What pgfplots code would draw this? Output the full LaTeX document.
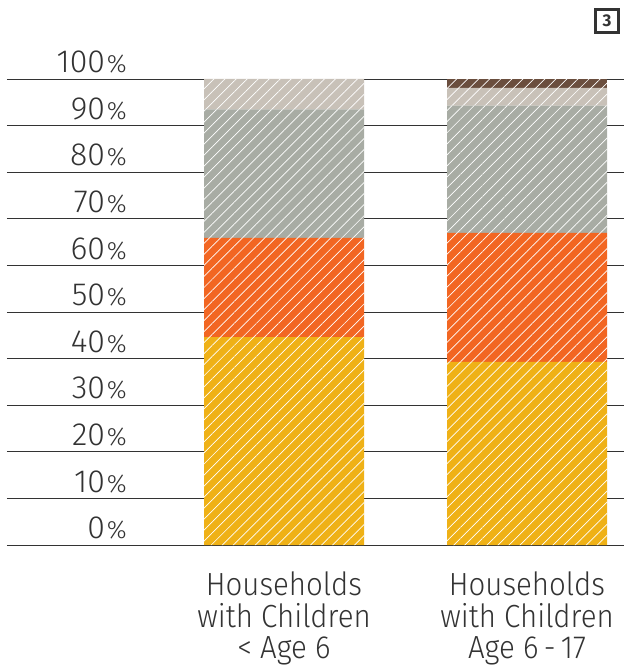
\documentclass[border=0pt]{standalone}
\usepackage{fontspec}
\setmainfont{Fira Sans Light}[FakeStretch=0.92]
\newfontfamily\tickfont{Fira Sans Light}
\newfontfamily\boxfont{Fira Sans}
\usepackage{pgfplots}
\pgfplotsset{compat=1.18}
\usetikzlibrary{patterns.meta}
\definecolor{cyellow}{HTML}{EFB116}
\definecolor{corange}{HTML}{F26622}
\definecolor{cgray}{HTML}{A8ACA4}
\definecolor{cbeige}{HTML}{C8C1B8}
\definecolor{cbrown}{HTML}{6A4E3E}
\definecolor{cgrid}{HTML}{333333}
\definecolor{ctext}{HTML}{333333}
\tikzset{hatch/.style={postaction={fill opacity=0.4,pattern={Lines[angle=45,distance=7.8pt,line width=0.7pt]},pattern color=white}}}
\begin{document}
\begin{tikzpicture}[x=1pt,y=1pt]
\useasboundingbox (-7,-123) rectangle (617,545);
\begin{axis}[
  at={(0,0)}, anchor=south west,
  scale only axis, width=617pt, height=466pt,
  xmin=0, xmax=617, ymin=0, ymax=100,
  ybar stacked, bar width=160,
  axis line style={draw=none},
  tick style={draw=none},
  ytick={0,10,...,100},
  ymajorgrids,
  grid style={color=cgrid, line width=0.8pt},
  /pgf/number format/assume math mode=true,
  yticklabel={{\tickfont\fontsize{32}{32}\selectfont\pgfmathprintnumber{\tick}}\kern2pt{\tickfont\fontsize{25}{25}\selectfont\%}},
  yticklabel style={anchor=south east, xshift=120pt, yshift=5.5pt, inner sep=0pt, text=ctext},
  xtick={277,520},
  xticklabels={{Households\\with Children\\< Age 6},{Households\\with Children\\Age 6\,-\,17}},
  xticklabel style={align=center, anchor=north, inner sep=0pt, yshift=-27pt, text=ctext,
     font=\fontsize{32}{31.5}\selectfont},
]
\addplot[fill=cyellow, draw=none, hatch] coordinates {(277,44.6) (520,39.3)};
\addplot[fill=corange, draw=none, hatch] coordinates {(277,21.3) (520,27.7)};
\addplot[fill=cgray, draw=none, hatch] coordinates {(277,27.6) (520,27.3)};
\addplot[fill=cbeige, draw=none, hatch] coordinates {(277,6.5) (520,3.8)};
\addplot[fill=cbrown, draw=none, hatch] coordinates {(277,0) (520,1.9)};
\end{axis}
\node[draw=ctext, line width=2.6pt, minimum size=23pt, inner sep=0pt, text=ctext, font=\boxfont\bfseries\fontsize{17}{17}\selectfont] at (600,524) {3};
\end{tikzpicture}
\end{document}
